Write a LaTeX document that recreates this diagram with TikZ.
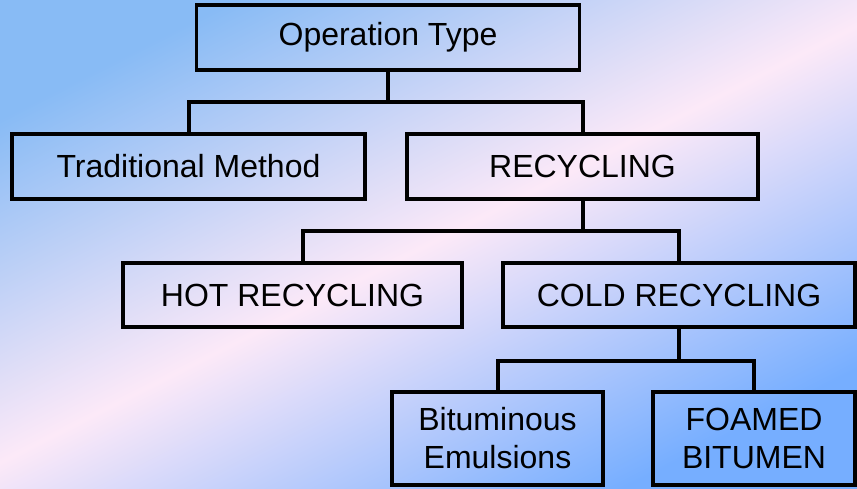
\documentclass[tikz,border=0pt]{standalone}
\usepackage{fontspec}
\setmainfont{Liberation Sans}
\definecolor{skyA}{RGB}{136,187,245}
\definecolor{blush}{RGB}{252,233,248}
\definecolor{skyB}{RGB}{118,174,255}

\begin{document}
\begin{tikzpicture}[x=1pt,y=-1pt,font=\fontsize{32}{38}\selectfont,
    box/.style={draw=black,line width=3.6pt,inner sep=0pt,align=center},
    link/.style={black,line width=4pt}]
  \useasboundingbox (0,0) rectangle (857,488);
  \shade[left color=skyA,right color=skyB,middle color=blush,shading angle=27] (0,0) rectangle (857,488);
  \node[box,minimum width=383pt,minimum height=65pt] (op) at (388,37.5) {Operation Type};
  \node[box,minimum width=353pt,minimum height=65pt] (trad) at (188.5,166.5) {Traditional Method};
  \node[box,minimum width=351pt,minimum height=65pt] (rec) at (582.5,166.5) {RECYCLING};
  \node[box,minimum width=339pt,minimum height=64pt] (hot) at (292.5,295) {HOT RECYCLING};
  \node[box,minimum width=352pt,minimum height=64pt] (cold) at (679,295) {COLD RECYCLING};
  \node[box,minimum width=211pt,minimum height=93pt] (bit) at (497.5,438.5) {Bituminous\\Emulsions};
  \node[box,minimum width=202pt,minimum height=93pt] (foam) at (754,438.5) {FOAMED\\BITUMEN};
  \path (op.south) ++(0,30) coordinate (opbar);
  \path (rec.south) ++(0,30) coordinate (recbar);
  \path (cold.south) ++(0,32) coordinate (coldbar);
  \draw[link] (op.south) -- (opbar);
  \draw[link] (trad.north) |- (opbar) -| (rec.north);
  \draw[link] (rec.south) -- (recbar);
  \draw[link] ([xshift=10pt]hot.north) |- (recbar) -| (cold.north);
  \draw[link] (cold.south) -- (coldbar);
  \draw[link] (bit.north) |- (coldbar) -| (foam.north);
\end{tikzpicture}
\end{document}
